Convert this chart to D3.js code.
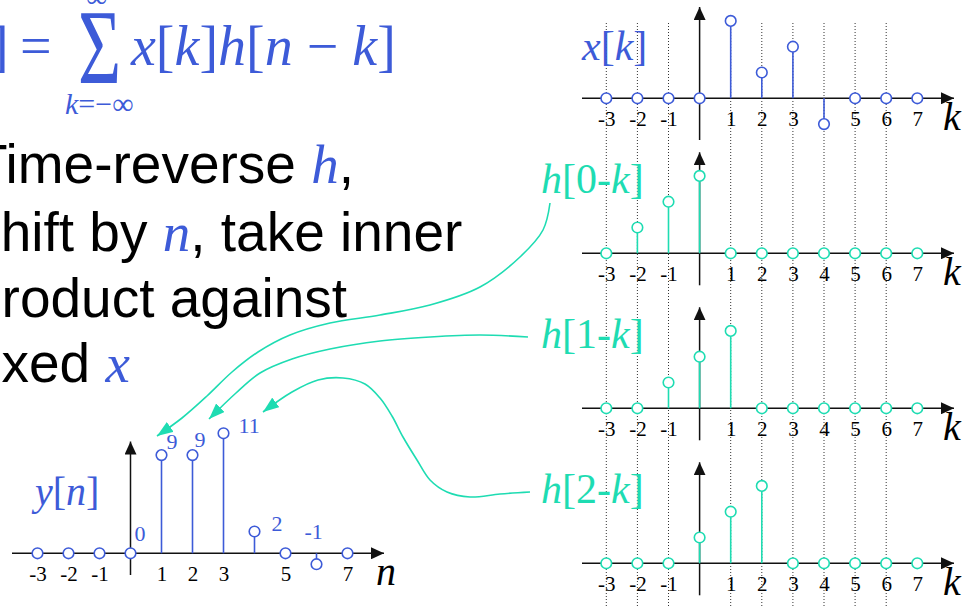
<!DOCTYPE html>
<html>
<head>
<meta charset="utf-8">
<script src="https://cdn.jsdelivr.net/npm/d3@7"></script>
<style>
  html, body { margin: 0; padding: 0; background: #fff; }
  svg { display: block; }
</style>
</head>
<body>
<svg id="chart" width="966" height="608"></svg>
<script>
// ---- data -------------------------------------------------------------
const kIndex = [-3, -2, -1, 0, 1, 2, 3, 4, 5, 6, 7];
const xSeq   = [0, 0, 0, 0, 3, 1, 2, -1, 0, 0, 0];      // x[k]
const h0k    = [0, 1, 2, 3, 0, 0, 0, 0, 0, 0, 0];       // h[0-k]
const h1k    = [0, 0, 1, 2, 3, 0, 0, 0, 0, 0, 0];       // h[1-k]
const h2k    = [0, 0, 0, 1, 2, 3, 0, 0, 0, 0, 0];       // h[2-k]
const yOut   = [0, 0, 0, 0, 9, 9, 11, 2, 0, -1, 0];     // y[n]
const yLabelled = [0, 1, 2, 3, 4, 6];                   // n with a value label

const xTicks = [-3, -2, -1, 1, 2, 3, 5, 6, 7];
const hTicks = [-3, -2, -1, 1, 2, 3, 4, 5, 6, 7];
const yTicks = [-3, -2, -1, 1, 2, 3, 5, 7];
const gridK  = [-3, -2, -1, 1, 2, 3, 4, 5, 6];

const hNames = ["0", "1", "2"];

// ---- look -------------------------------------------------------------
const BLUE = "#3d5bd8";
const TEAL = "#1edcb2";
const SERIF = "'Liberation Serif', 'Times New Roman', serif";
const SANS = "'Liberation Sans', Arial, sans-serif";

const svg = d3.select("#chart");

// arrowheads
const defs = svg.append("defs");
function arrowMarker(id, color, len, wid) {
  defs.append("marker")
    .attr("id", id)
    .attr("viewBox", `0 0 ${len} ${wid}`)
    .attr("refX", len).attr("refY", wid / 2)
    .attr("markerWidth", len).attr("markerHeight", wid)
    .attr("markerUnits", "userSpaceOnUse")
    .attr("orient", "auto")
    .append("path")
    .attr("d", `M0,0 L${len},${wid / 2} L0,${wid} Z`)
    .attr("fill", color);
}
arrowMarker("axisHead", "#111", 13, 12);
arrowMarker("tealHead", TEAL, 16, 12);

// ---- scales -----------------------------------------------------------
const kScale = d3.scaleLinear().domain([-3, 7]).range([606.3, 917.3]);
const nScale = d3.scaleLinear().domain([-3, 7]).range([37.5, 347.5]);
const ampK = d3.scaleLinear().domain([0, 3]).range([0, -77.4]);
const ampN = d3.scaleLinear().domain([0, 11]).range([0, -120]);

// ---- right-hand stem panels -------------------------------------------
const panelAxisY = [98.3, 253.3, 408.3, 563.3];

// dotted guides through all right panels
svg.append("g").selectAll("line").data(gridK).join("line")
  .attr("x1", d => kScale(d)).attr("x2", d => kScale(d))
  .attr("y1", 23).attr("y2", 608)
  .attr("stroke", "#333").attr("stroke-width", 1)
  .attr("stroke-dasharray", "1,2");

function stemPanel(opts) {
  const { axisY, seq, color, ticks, xs, amp, axisLeft, axisRight,
          vTop, vBottom, axisLabel, labelX, labelSize } = opts;
  const g = svg.append("g");

  // horizontal axis
  g.append("line")
    .attr("x1", axisLeft).attr("x2", axisRight)
    .attr("y1", axisY).attr("y2", axisY)
    .attr("stroke", "#111").attr("stroke-width", 1.5)
    .attr("marker-end", "url(#axisHead)");
  // vertical axis
  g.append("line")
    .attr("x1", xs(0)).attr("x2", xs(0))
    .attr("y1", vBottom).attr("y2", vTop)
    .attr("stroke", "#111").attr("stroke-width", 1.5)
    .attr("marker-end", "url(#axisHead)");

  // tick labels
  const ax = g.append("g")
    .attr("transform", `translate(0,${axisY})`)
    .call(d3.axisBottom(xs).tickValues(ticks).tickSize(0).tickPadding(12.5)
      .tickFormat(d => String(d)));
  ax.select(".domain").remove();
  ax.selectAll("text")
    .attr("font-family", SERIF).attr("font-size", 21).attr("fill", "#000");

  // axis variable
  g.append("text")
    .attr("x", labelX).attr("y", axisY + 32)
    .attr("font-family", SERIF).attr("font-style", "italic")
    .attr("font-size", labelSize).attr("fill", "#000")
    .text(axisLabel);

  const pts = kIndex.map((k, i) => ({ k, v: seq[i] }));
  g.append("g").selectAll("line").data(pts.filter(p => p.v !== 0)).join("line")
    .attr("x1", p => xs(p.k)).attr("x2", p => xs(p.k))
    .attr("y1", axisY).attr("y2", p => axisY + amp(p.v))
    .attr("stroke", color).attr("stroke-width", 1.6);
  g.append("g").selectAll("circle").data(pts).join("circle")
    .attr("cx", p => xs(p.k)).attr("cy", p => axisY + amp(p.v))
    .attr("r", 5.3)
    .attr("fill", "#fff").attr("stroke", color).attr("stroke-width", 1.6);
  return g;
}

const rightCommon = { xs: kScale, amp: ampK, axisLeft: 582, axisRight: 954,
                      axisLabel: "k", labelX: 943, labelSize: 40 };

stemPanel(Object.assign({}, rightCommon, {
  axisY: panelAxisY[0], seq: xSeq, color: BLUE, ticks: xTicks,
  vTop: 7, vBottom: 140
}));
[h0k, h1k, h2k].forEach((seq, i) => {
  const ay = panelAxisY[i + 1];
  stemPanel(Object.assign({}, rightCommon, {
    axisY: ay, seq, color: TEAL, ticks: hTicks,
    vTop: ay - 101, vBottom: ay + 32
  }));
});

// panel names
const xName = svg.append("text")
  .attr("x", 582).attr("y", 60)
  .attr("font-family", SERIF).attr("font-size", 42).attr("fill", BLUE);
xName.append("tspan").attr("font-style", "italic").text("x");
xName.append("tspan").text("[");
xName.append("tspan").attr("font-style", "italic").text("k");
xName.append("tspan").text("]");

hNames.forEach((s, i) => {
  const t = svg.append("text")
    .attr("x", 541).attr("y", panelAxisY[i + 1] - 60)
    .attr("font-family", SERIF).attr("font-size", 42).attr("fill", TEAL);
  t.append("tspan").attr("font-style", "italic").text("h");
  t.append("tspan").text("[" + s + "-");
  t.append("tspan").attr("font-style", "italic").text("k");
  t.append("tspan").text("]");
});

// ---- output panel y[n] -------------------------------------------------
const outAxisY = 553.3;
const gOut = stemPanel({
  axisY: outAxisY, seq: yOut, color: BLUE, ticks: yTicks,
  xs: nScale, amp: ampN, axisLeft: 12, axisRight: 384,
  vTop: 441.5, vBottom: 575,
  axisLabel: "n", labelX: 376, labelSize: 40
});

// value labels beside each output sample
const labelNudge = { 0: [4, -12], 1: [5, -6], 2: [2, -8], 3: [15, 0], 4: [17, 0], 6: [-12, -25] };
gOut.append("g").selectAll("text")
  .data(yLabelled.map(n => ({ n, v: yOut[kIndex.indexOf(n)] })))
  .join("text")
  .attr("x", d => nScale(d.n) + labelNudge[d.n][0])
  .attr("y", d => outAxisY + ampN(d.v) + labelNudge[d.n][1])
  .attr("font-family", SERIF).attr("font-size", 22).attr("fill", BLUE)
  .text(d => String(d.v));

const yName = svg.append("text")
  .attr("x", 35).attr("y", 505)
  .attr("font-family", SERIF).attr("font-size", 40).attr("fill", BLUE);
yName.append("tspan").attr("font-style", "italic").text("y");
yName.append("tspan").text("[");
yName.append("tspan").attr("font-style", "italic").text("n");
yName.append("tspan").text("]");

// ---- convolution sum --------------------------------------------------
const eq = svg.append("g").attr("fill", BLUE).attr("font-family", SERIF);
eq.append("text").attr("x", -10).attr("y", 65).attr("font-size", 56).text("]");
eq.append("text").attr("x", 20).attr("y", 65).attr("font-size", 56).text("=");
eq.append("text")
  .attr("transform", "translate(78,83) scale(0.7,1)")
  .attr("font-size", 106).text("Σ");
eq.append("text").attr("x", 86).attr("y", 7).attr("font-size", 30).text("∞");
const lower = eq.append("text").attr("x", 65).attr("y", 114).attr("font-size", 30);
lower.append("tspan").attr("font-style", "italic").text("k");
lower.append("tspan").text("=−∞");
const summand = eq.append("text").attr("x", 131).attr("y", 65).attr("font-size", 56);
summand.append("tspan").attr("font-style", "italic").text("x");
summand.append("tspan").text("[");
summand.append("tspan").attr("font-style", "italic").text("k");
summand.append("tspan").text("]");
summand.append("tspan").attr("font-style", "italic").text("h");
summand.append("tspan").text("[");
summand.append("tspan").attr("font-style", "italic").text("n");
summand.append("tspan").text(" − ");
summand.append("tspan").attr("font-style", "italic").text("k");
summand.append("tspan").text("]");

// ---- explanatory text -------------------------------------------------
const body = [
  [["Time-reverse ", false], ["h", true], [",", false]],
  [["Shift by ", false], ["n", true], [", take inner", false]],
  [["product against", false]],
  [["fixed ", false], ["x", true]]
];
const bodyBase = [183, 251, 317, 382];
const bodyStart = [-26, -36, -29, -26];
body.forEach((parts, i) => {
  const t = svg.append("text")
    .attr("x", bodyStart[i]).attr("y", bodyBase[i])
    .attr("font-family", SANS).attr("font-size", 55).attr("fill", "#000");
  parts.forEach(([s, math]) => {
    const sp = t.append("tspan").text(s);
    if (math) sp.attr("font-family", SERIF).attr("font-style", "italic").attr("fill", BLUE);
  });
});

// ---- connectors from each shifted h to its output sample ---------------
const connectors = [
  [[550, 203], [543, 230], [520, 257], [480, 287], [430, 305], [380, 315],
   [330, 323], [290, 335], [258, 352], [232, 372], [207, 396], [182, 418], [157, 436]],
  [[528, 337], [480, 335], [430, 337], [380, 341], [330, 349], [292, 359],
   [260, 373], [236, 393], [209, 419]],
  [[530, 492], [500, 494], [470, 497], [447, 492], [430, 480], [417, 460],
   [403, 437], [392, 416], [380, 398], [365, 384], [343, 378], [318, 380],
   [292, 392], [263, 412]]
];
const curve = d3.line().curve(d3.curveCatmullRom.alpha(0.5));
svg.append("g").selectAll("path").data(connectors).join("path")
  .attr("d", curve)
  .attr("fill", "none").attr("stroke", TEAL).attr("stroke-width", 1.6)
  .attr("marker-end", "url(#tealHead)");
</script>
</body>
</html>
